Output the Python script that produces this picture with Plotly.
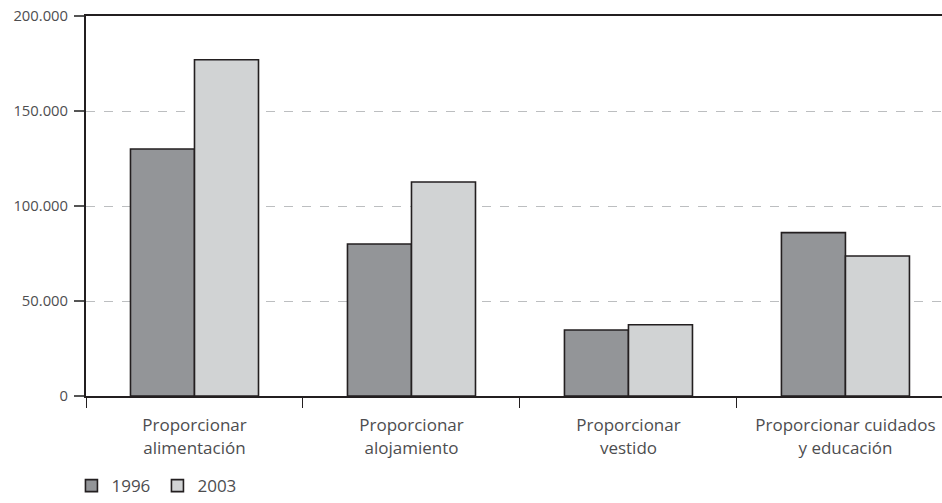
import plotly.graph_objects as go

categories = ["Proporcionar<br>alimentación", "Proporcionar<br>alojamiento",
              "Proporcionar<br>vestido", "Proporcionar cuidados<br>y educación"]
series_names = ["1996", "2003"]
values_1996 = [130000, 80000, 34700, 86000]
values_2003 = [177000, 112600, 37500, 73700]
y_tickvals = [0, 50000, 100000, 150000, 200000]
y_ticktext = ["0", "50.000", "100.000", "150.000", "200.000"]

FONT = "Open Sans"
TXT = "#4d4d4f"
EDGE = "#231f20"

fig = go.Figure()
fig.add_trace(go.Bar(x=categories, y=values_1996, name=series_names[0],
                     marker=dict(color="#939598", line=dict(color=EDGE, width=1.6))))
fig.add_trace(go.Bar(x=categories, y=values_2003, name=series_names[1],
                     marker=dict(color="#d1d3d4", line=dict(color=EDGE, width=1.6))))

fig.update_layout(
    width=942, height=503,
    margin=dict(l=86, r=0, t=16, b=107, autoexpand=False),
    paper_bgcolor="white", plot_bgcolor="white",
    barmode="group", bargap=0.41, bargroupgap=0,
    font=dict(family=FONT, size=14, color=TXT),
    legend=dict(orientation="h", x=-0.017, xanchor="left", y=-0.237, yanchor="middle",
                font=dict(size=17, color=TXT), traceorder="normal",
                entrywidth=41, entrywidthmode="pixels"),
    showlegend=True,
)
fig.update_xaxes(
    range=[-0.5, 3.445], showline=True, linecolor=EDGE, linewidth=2, mirror=True,
    ticks="outside", tickson="boundaries", ticklen=10, tickcolor=EDGE, tickwidth=1,
    showgrid=False, tickfont=dict(size=17, color=TXT), ticklabelstandoff=13,
    automargin=False,
)
fig.update_yaxes(
    range=[0, 200000], tickvals=y_tickvals, ticktext=y_ticktext,
    showline=True, linecolor=EDGE, linewidth=2,
    ticks="outside", ticklen=10, tickcolor="#555555", tickwidth=1.5,
    showgrid=True, gridcolor="#bcbec0", griddash="dash", gridwidth=1.2,
    zeroline=False, tickfont=dict(size=14.8, color=TXT), ticklabelstandoff=3,
    automargin=False,
)
fig.write_html("out.html", config={"displayModeBar": False},
               post_script="document.body.style.margin='0';document.body.style.padding='0';")
